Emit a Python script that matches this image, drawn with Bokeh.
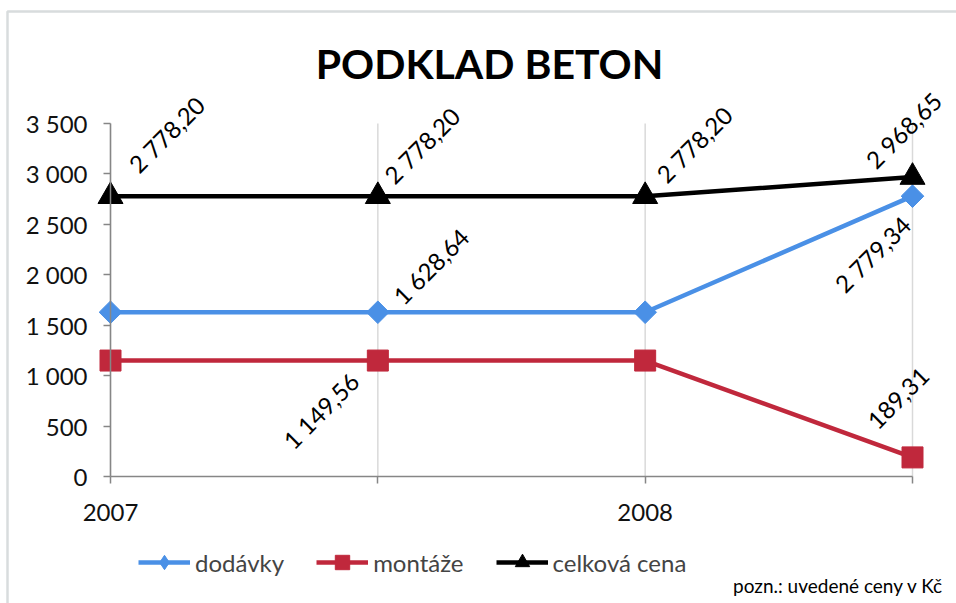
import math
from bokeh.plotting import figure
from bokeh.models import (Range1d, FixedTicker, Legend, LegendItem, Label, BoxAnnotation)
from bokeh.core.properties import value
from bokeh.embed import file_html
from bokeh.resources import INLINE

# ---- data ----
x_pos = [0, 1, 2, 3]
x_tick_labels = ["2007", "", "2008", ""]
dodavky = [1628.64, 1628.64, 1628.64, 2779.34]
montaze = [1149.56, 1149.56, 1149.56, 189.31]
celkova = [2778.20, 2778.20, 2778.20, 2968.65]
y_ticks = [0, 500, 1000, 1500, 2000, 2500, 3000, 3500]
y_tick_labels = ["0", "500", "1 000", "1 500", "2 000", "2 500", "3 000", "3 500"]
series_names = ["dodávky", "montáže", "celková cena"]
title_text = "PODKLAD BETON"
note_text = "pozn.: uvedené ceny v Kč"

# which points carry a data label
dodavky_label_idx = [1, 3]
montaze_label_idx = [1, 3]
celkova_label_idx = [0, 1, 2, 3]

# ---- style ----
FONT = "Lato"
BLUE = "#4A90E6"
RED = "#C0283C"
BLACK = "#000000"
AXIS_GRAY = "#868686"
GRID_GRAY = "#D9D9D9"
BORDER_GRAY = "#7F8C8D"

W, H = 956, 603
# label offsets in screen px (style only)
dod_off = [(53, -46), (-40, 58)]
mon_off = [(-57, 50), (-14, -59)]
cel_off = [(56, -62), (44, -51), (49, -52), (-9, -47)]

# plot geometry (pixels): where x=0 / x=3 and y=0 / y=3500 fall
X0_PX, X3_PX = 110, 912
Y0_PX, YTOP_PX = 476, 123
ux = (X3_PX - X0_PX) / (x_pos[-1] - x_pos[0])
uy = (Y0_PX - YTOP_PX) / (y_ticks[-1] - y_ticks[0])
x_range = Range1d(x_pos[0] - X0_PX / ux, x_pos[0] + (W - X0_PX) / ux)
y_range = Range1d(y_ticks[0] - (H - Y0_PX) / uy, y_ticks[0] + Y0_PX / uy)


def fmt(v):
    return f"{v:,.2f}".replace(",", " ").replace(".", ",")


p = figure(width=W, height=H, output_backend="svg", toolbar_location=None,
           x_range=x_range, y_range=y_range,
           min_border_left=0, min_border_right=0, min_border_top=0,
           min_border_bottom=0)
p.outline_line_color = None
p.background_fill_color = "white"
p.border_fill_color = "white"

# chart border (left + top edges)
p.add_layout(BoxAnnotation(left=7, right=3000, top=H - 11, bottom=-3000,
                           left_units="screen", right_units="screen",
                           top_units="screen", bottom_units="screen",
                           fill_alpha=0, line_color=BORDER_GRAY, line_width=2.5))

# title
p.add_layout(Label(x=489, y=H - 63, x_units="screen", y_units="screen",
                   text=title_text, text_align="center", text_baseline="middle",
                   text_font=FONT, text_font_size="41px", text_font_style="bold",
                   text_color="black"))

# vertical grid lines, limited to the value axis extent
p.segment(x0=x_pos, y0=[y_ticks[0]] * len(x_pos), x1=x_pos,
          y1=[y_ticks[-1]] * len(x_pos), line_color=GRID_GRAY, line_width=1.5)
p.xgrid.visible = False
p.ygrid.visible = False

# axes crossing at the origin
p.xaxis.fixed_location = y_ticks[0]
p.yaxis.fixed_location = x_pos[0]
p.xaxis.bounds = (x_pos[0], x_pos[-1])
p.yaxis.bounds = (y_ticks[0], y_ticks[-1])
p.xaxis.ticker = FixedTicker(ticks=x_pos)
p.xaxis.major_label_overrides = {x: lab for x, lab in zip(x_pos, x_tick_labels)}
p.yaxis.ticker = FixedTicker(ticks=y_ticks)
p.yaxis.major_label_overrides = {y: lab for y, lab in zip(y_ticks, y_tick_labels)}
for ax in (p.xaxis[0], p.yaxis[0]):
    ax.axis_line_color = AXIS_GRAY
    ax.axis_line_width = 1.5
    ax.major_tick_line_color = AXIS_GRAY
    ax.major_tick_line_width = 1.5
    ax.major_tick_in = 0
    ax.major_tick_out = 7
    ax.minor_tick_line_color = None
    ax.major_label_text_font = FONT
    ax.major_label_text_font_size = "24px"
    ax.major_label_text_color = "#111111"
p.yaxis.major_label_standoff = 16
p.xaxis.major_label_standoff = 20

# series
l1 = p.line(x_pos, dodavky, line_color=BLUE, line_width=4.5)
m1 = p.scatter(x_pos, dodavky, marker="square", angle=math.pi / 4, size=16,
               fill_color=BLUE, line_color=BLUE)
l2 = p.line(x_pos, montaze, line_color=RED, line_width=4.5)
m2 = p.scatter(x_pos, montaze, marker="square", size=21,
               fill_color=RED, line_color=RED)
l3 = p.line(x_pos, celkova, line_color=BLACK, line_width=4.5)
m3 = p.scatter(x_pos, celkova, marker="triangle", size=25,
               fill_color=BLACK, line_color=BLACK)

# legend-only marker glyphs (no visible points of their own)
nan = float("nan")
lg1 = p.scatter([nan], [nan], marker="diamond", size=10, fill_color=BLUE,
                line_color=BLUE)
lg2 = p.scatter([nan], [nan], marker="square", size=10, fill_color=RED,
                line_color=RED)
lg3 = p.scatter([nan], [nan], marker="triangle", size=10, fill_color=BLACK,
                line_color=BLACK)


# data labels
def add_labels(vals, idx, offs):
    p.text([x_pos[i] for i in idx], [vals[i] for i in idx],
           text=[fmt(vals[i]) for i in idx],
           x_offset=[o[0] for o in offs], y_offset=[o[1] for o in offs],
           angle=math.pi / 4, text_align="center", text_baseline="middle",
           text_font=value(FONT), text_font_size="24px", text_color="black")


add_labels(celkova, celkova_label_idx, cel_off)
add_labels(dodavky, dodavky_label_idx, dod_off)
add_labels(montaze, montaze_label_idx, mon_off)

legend = Legend(items=[LegendItem(label=series_names[0], renderers=[l1, lg1]),
                       LegendItem(label=series_names[1], renderers=[l2, lg2]),
                       LegendItem(label=series_names[2], renderers=[l3, lg3])],
                orientation="horizontal", location=(138, 23),
                label_text_font=FONT, label_text_font_size="24px",
                glyph_width=52, glyph_height=36, spacing=32, label_standoff=5,
                border_line_color=None, background_fill_alpha=0,
                padding=0, margin=0)
p.add_layout(legend)

p.add_layout(Label(x=943, y=18, x_units="screen", y_units="screen",
                   text=note_text, text_align="right", text_baseline="middle",
                   text_font=FONT, text_font_size="19px", text_color="black"))

open("out.html", "w").write(file_html(p, INLINE))
